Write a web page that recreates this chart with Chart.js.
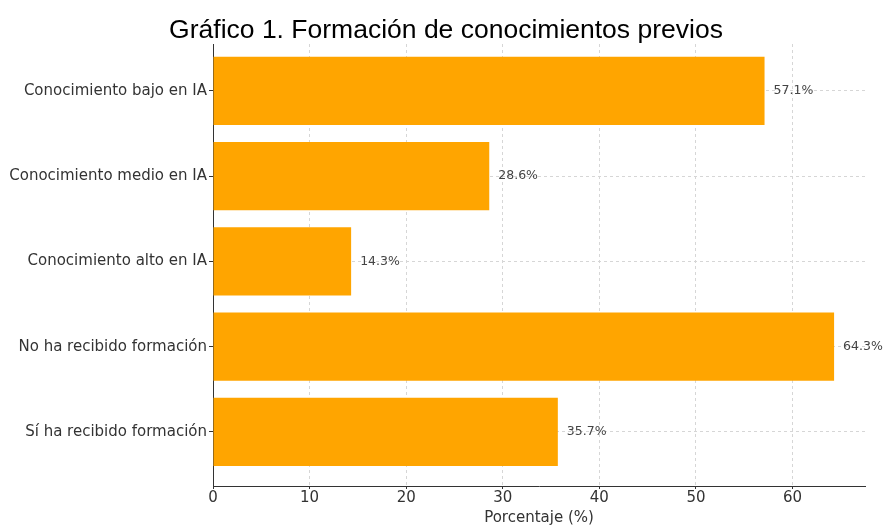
<!DOCTYPE html>
<html>
<head>
    <meta charset="utf-8">
    <title>Gráfico 1</title>
    <script src="https://cdn.jsdelivr.net/npm/chart.js@4/dist/chart.umd.min.js"></script>
    <style>
        body { margin: 0; background: #fff; }
    </style>
</head>
<body>
    <canvas id="grafico" width="884" height="525"></canvas>

    <script>
        // datos
        const categorias = [
            "Conocimiento bajo en IA",
            "Conocimiento medio en IA",
            "Conocimiento alto en IA",
            "No ha recibido formación",
            "Sí ha recibido formación"
        ];
        const porcentajes = [57.1, 28.6, 14.3, 64.3, 35.7];
        const ticksX = [0, 10, 20, 30, 40, 50, 60];

        const titulo = "Gráfico 1. Formación de conocimientos previos";
        const fuente = "'DejaVu Sans', sans-serif";

        // titulo encima del grafico
        const tituloPlugin = {
            id: 'tituloPlugin',
            afterDraw(chart) {
                const ctx = chart.ctx;
                ctx.save();
                ctx.font = "26.5px 'Liberation Sans', Arial, sans-serif";
                ctx.fillStyle = "#000";
                ctx.textAlign = "center";
                ctx.textBaseline = "alphabetic";
                ctx.fillText(titulo, 446, 38);
                ctx.restore();
            }
        };

        // etiquetas de valor al final de cada barra
        const valoresPlugin = {
            id: 'valoresPlugin',
            afterDatasetsDraw(chart) {
                const ctx = chart.ctx;
                const meta = chart.getDatasetMeta(0);
                ctx.save();
                ctx.font = "12.5px " + fuente;
                ctx.fillStyle = "#444";
                ctx.textAlign = "left";
                ctx.textBaseline = "middle";
                meta.data.forEach(function (bar, i) {
                    ctx.fillText(porcentajes[i].toFixed(1) + "%", bar.x + 9, bar.y);
                });
                ctx.restore();
            }
        };

        new Chart(document.getElementById("grafico"), {
            type: 'bar',
            data: {
                datasets: [{
                    data: porcentajes.map(function (v, i) { return { x: v, y: i }; }),
                    backgroundColor: "#FFA500",
                    borderWidth: 0,
                    barPercentage: 0.8,
                    categoryPercentage: 1.0
                }]
            },
            options: {
                indexAxis: 'y',
                responsive: false,
                animation: false,
                layout: { padding: { top: 44, right: 19, left: 0, bottom: 0 } },
                plugins: {
                    legend: { display: false },
                    tooltip: { enabled: false }
                },
                scales: {
                    x: {
                        type: 'linear',
                        min: 0,
                        max: 67.5,
                        afterBuildTicks: function (scale) {
                            scale.ticks = ticksX.map(function (v) { return { value: v }; });
                        },
                        afterFit: function (scale) { scale.height = 39; },
                        ticks: {
                            font: { family: fuente, size: 15 },
                            color: "#333",
                            padding: 0,
                            maxRotation: 0
                        },
                        grid: {
                            color: "#d6d6d6",
                            lineWidth: 1,
                            tickLength: 3,
                            tickColor: "#333",
                            tickBorderDash: []
                        },
                        border: { display: true, color: "#333", width: 1, dash: [3, 3] },
                        title: {
                            display: true,
                            text: "Porcentaje (%)",
                            font: { family: fuente, size: 15 },
                            color: "#333",
                            padding: { top: 0, bottom: -2 }
                        }
                    },
                    y: {
                        type: 'linear',
                        reverse: true,
                        offset: false,
                        min: -0.55,
                        max: 4.635,
                        afterBuildTicks: function (scale) {
                            scale.ticks = categorias.map(function (c, i) { return { value: i }; });
                        },
                        afterFit: function (scale) { scale.width = 213; },
                        ticks: {
                            font: { family: fuente, size: 15 },
                            color: "#333",
                            padding: 2,
                            callback: function (v) { return categorias[v]; }
                        },
                        grid: {
                            offset: false,
                            color: "#d6d6d6",
                            lineWidth: 1,
                            tickLength: 4,
                            tickColor: "#333",
                            tickBorderDash: []
                        },
                        border: { display: true, color: "#333", width: 1, dash: [3, 3] }
                    }
                }
            },
            plugins: [valoresPlugin, tituloPlugin]
        });
    </script>
</body>
</html>
